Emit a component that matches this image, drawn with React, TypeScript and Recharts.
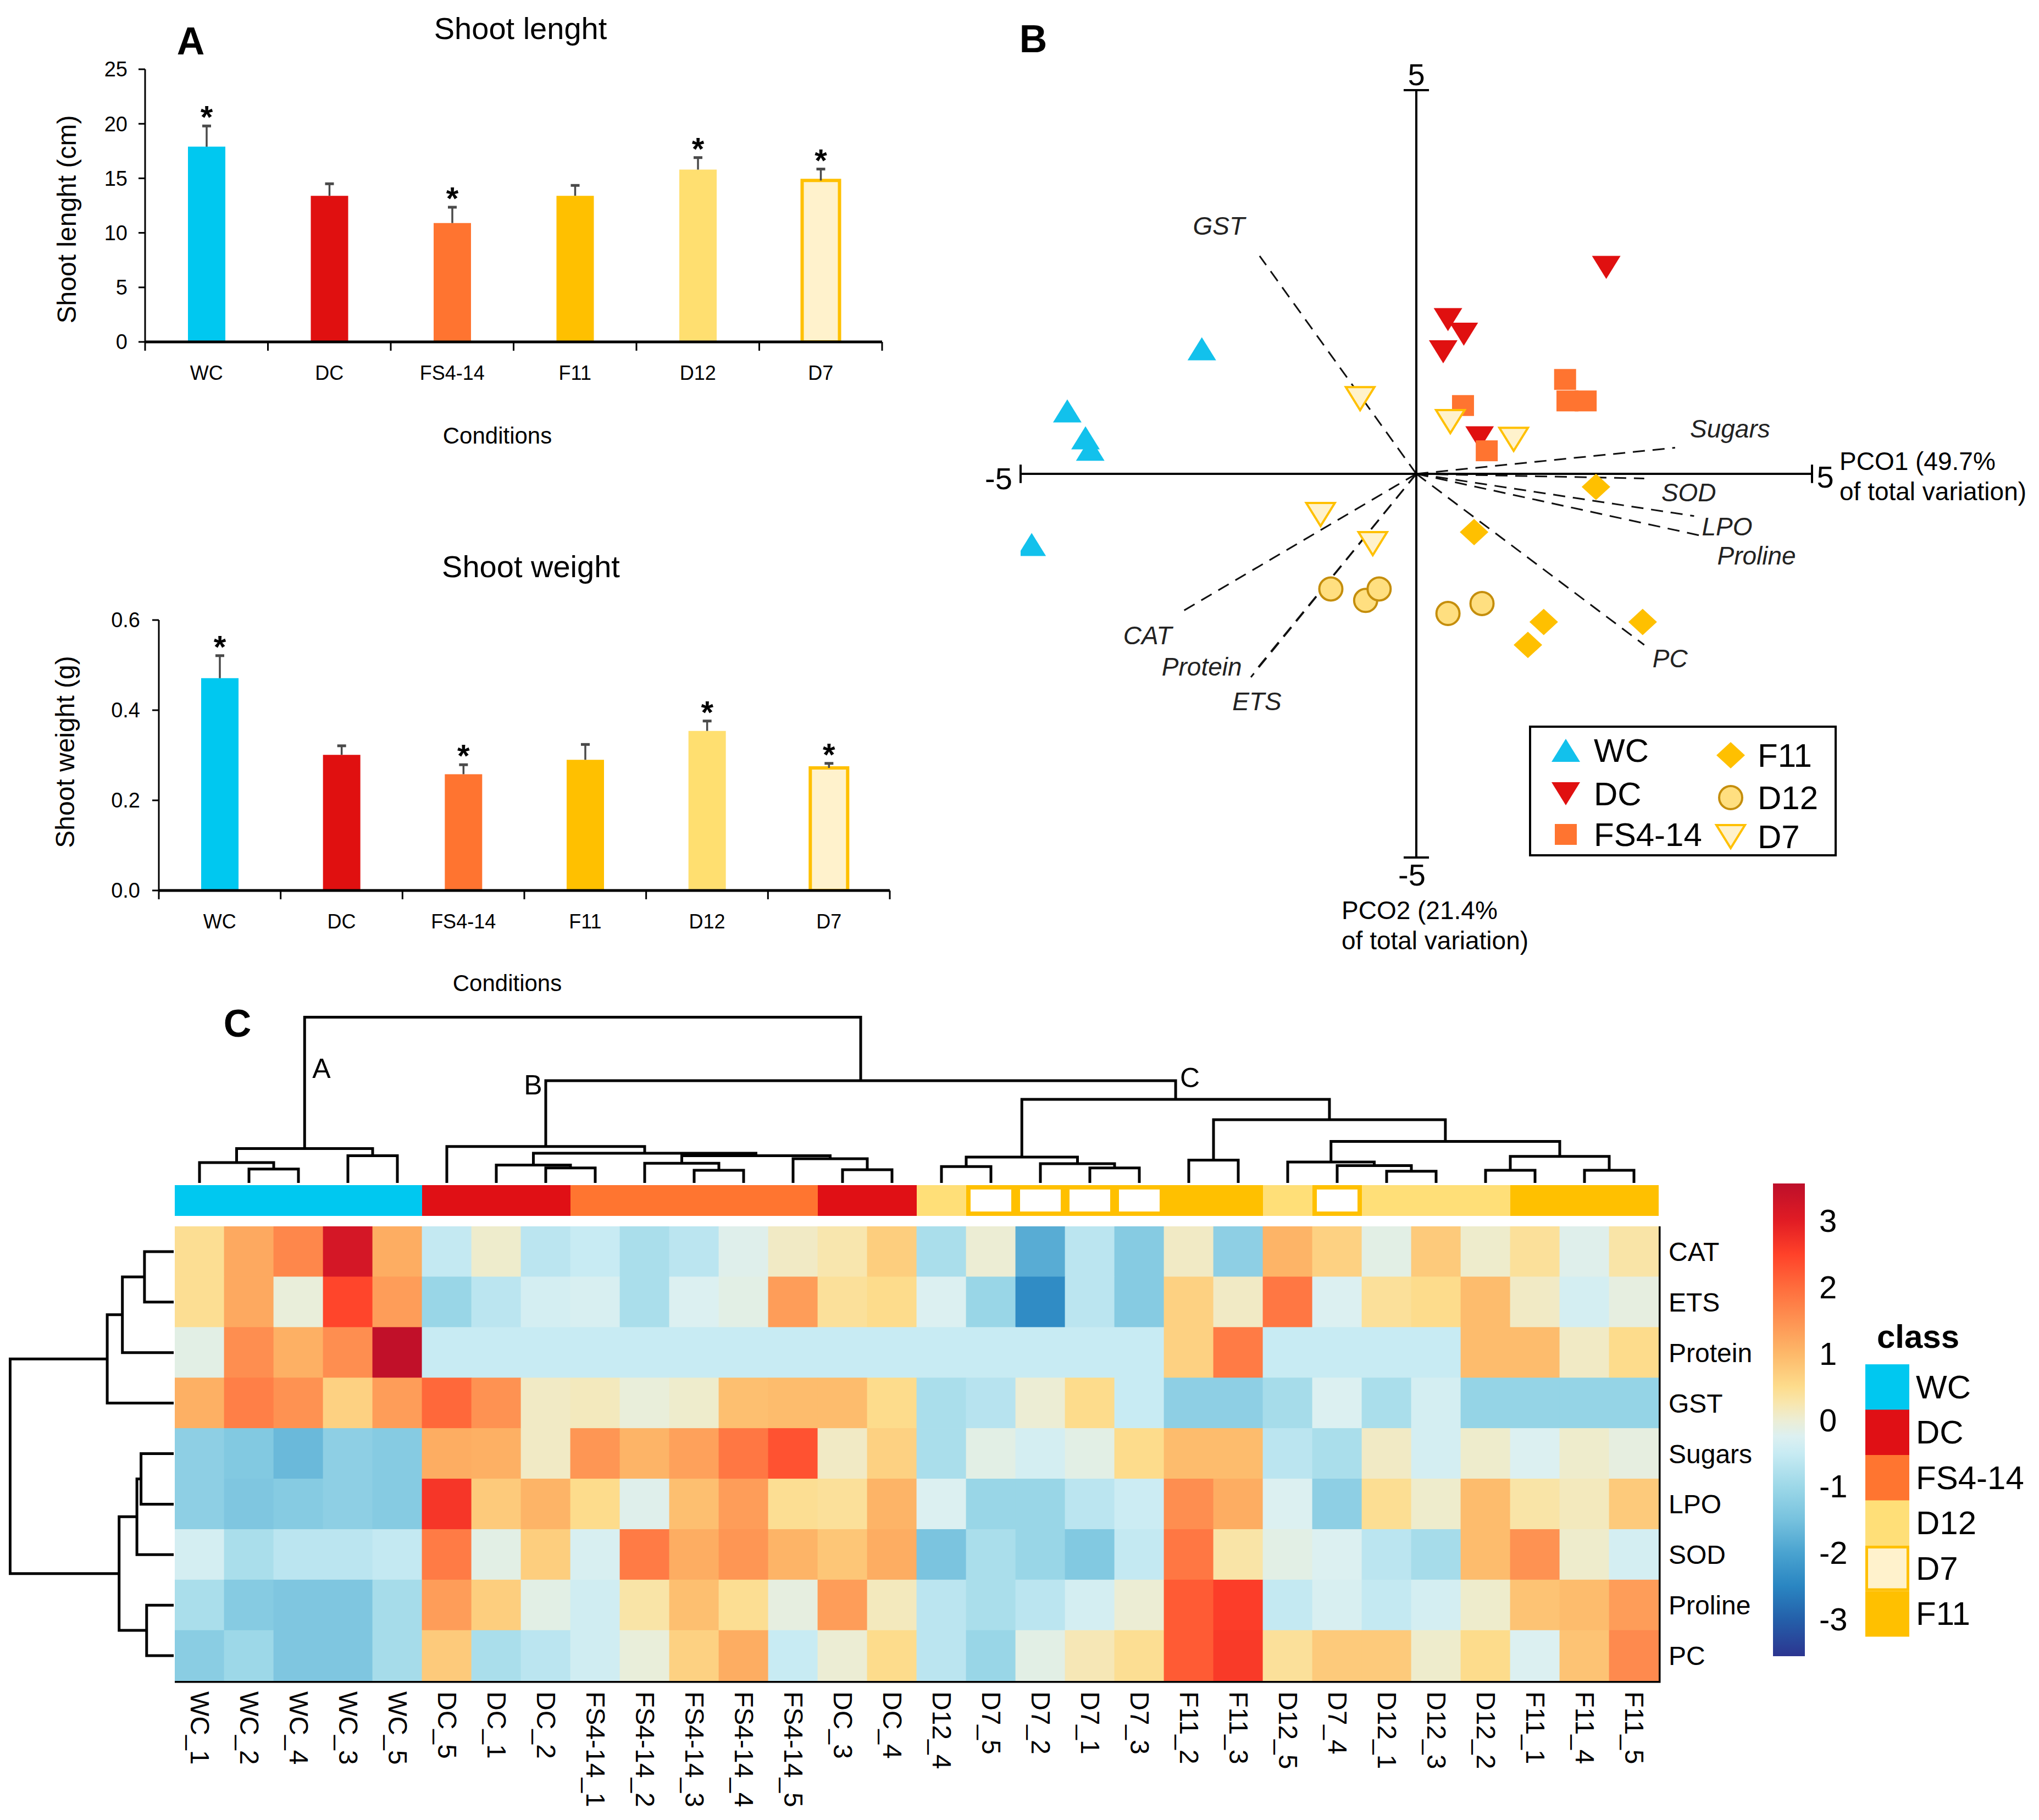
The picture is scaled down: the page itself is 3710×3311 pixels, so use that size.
import React from "react";
import {
  BarChart,
  Bar,
  Cell,
  XAxis,
  YAxis,
  LabelList,
  ScatterChart,
  Scatter,
  ReferenceLine,
  ReferenceArea,
} from "recharts";

const FONT = '"Liberation Sans", Arial, Helvetica, sans-serif';

// ---------- Panel A: shoot length / weight ----------
const conditions = ["WC", "DC", "FS4-14", "F11", "D12", "D7"];
const shootLength = [17.9, 13.4, 10.9, 13.4, 15.8, 14.8];
const shootLengthErr = [1.9, 1.1, 1.45, 0.95, 1.1, 1.05];
const shootLengthSig = [true, false, true, false, true, true];
const shootWeight = [0.471, 0.301, 0.258, 0.29, 0.354, 0.272];
const shootWeightErr = [0.05, 0.02, 0.021, 0.034, 0.022, 0.01];
const shootWeightSig = [true, false, true, false, true, true];
const lengthTicks = [0, 5, 10, 15, 20, 25];
const weightTicks = [0, 0.2, 0.4, 0.6];

const condFill: Record<string, string> = {
  WC: "#00C8F0",
  DC: "#E01010",
  "FS4-14": "#FF7430",
  F11: "#FFC000",
  D12: "#FFDF70",
  D7: "#FFF2CC",
};

// ---------- Panel B: PCO scores and vectors ----------
const pcoWC = [[-2.71, 1.63], [-4.41, 0.82], [-4.18, 0.47], [-4.12, 0.32], [-4.86, -0.92]];
const pcoDC = [[2.4, 2.69], [0.4, 2.01], [0.6, 1.82], [0.34, 1.59], [0.8, 0.47]];
const pcoFS = [[1.88, 1.23], [1.91, 0.95], [2.14, 0.95], [0.59, 0.89], [0.89, 0.3]];
const pcoF11 = [[2.27, -0.17], [0.73, -0.76], [1.61, -1.93], [1.41, -2.23], [2.86, -1.93]];
const pcoD12 = [[-1.08, -1.5], [-0.64, -1.65], [-0.47, -1.5], [0.4, -1.82], [0.83, -1.69]];
const pcoD7 = [[-0.71, 0.98], [0.43, 0.68], [1.23, 0.45], [-1.21, -0.53], [-0.55, -0.91]];
const vectorNames = ["GST", "Sugars", "SOD", "LPO", "Proline", "PC", "CAT", "Protein", "ETS"];
const vectorEnds = [
  [-1.98, 2.84], [3.27, 0.34], [2.88, -0.06], [3.51, -0.55], [3.57, -0.8],
  [2.88, -2.23], [-3.0, -1.82], [-2.03, -2.56], [-2.09, -2.65],
];

// ---------- Panel C: heatmap ----------
const sampleNames = [
  "WC_1", "WC_2", "WC_4", "WC_3", "WC_5", "DC_5", "DC_1", "DC_2", "FS4-14_1", "FS4-14_2",
  "FS4-14_3", "FS4-14_4", "FS4-14_5", "DC_3", "DC_4", "D12_4", "D7_5", "D7_2", "D7_1", "D7_3",
  "F11_2", "F11_3", "D12_5", "D7_4", "D12_1", "D12_3", "D12_2", "F11_1", "F11_4", "F11_5",
];
const variables = ["CAT", "ETS", "Protein", "GST", "Sugars", "LPO", "SOD", "Proline", "PC"];
const zCAT = [0.45, 1.2, 1.65, 3.2, 1.15, -0.55, 0.05, -0.65, -0.5, -0.85, -0.65, -0.2, 0.1, 0.25, 0.7, -0.85, 0.0, -1.85, -0.65, -1.3, 0.1, -1.2, 1.05, 0.65, -0.15, 0.75, 0.05, 0.4, -0.2, 0.3];
const zETS = [0.45, 1.2, -0.05, 2.45, 1.35, -1.05, -0.65, -0.35, -0.3, -0.85, -0.25, -0.15, 1.35, 0.4, 0.5, -0.25, -1.05, -2.4, -0.65, -1.3, 0.65, 0.1, 1.85, -0.25, 0.4, 0.5, 0.95, 0.1, -0.35, -0.1];
const zProtein = [-0.15, 1.55, 1.1, 1.55, 3.5, -0.5, -0.5, -0.5, -0.5, -0.5, -0.5, -0.5, -0.5, -0.5, -0.5, -0.5, -0.5, -0.5, -0.5, -0.5, 0.65, 1.8, -0.5, -0.5, -0.5, -0.5, 0.95, 0.95, 0.1, 0.5];
const zGST = [1.1, 1.75, 1.5, 0.65, 1.35, 2.05, 1.5, 0.1, 0.15, -0.05, 0.05, 0.9, 0.95, 0.95, 0.5, -0.85, -0.7, 0.0, 0.5, -0.5, -1.2, -1.2, -0.9, -0.25, -0.85, -0.35, -1.1, -1.1, -1.1, -1.1];
const zSugars = [-1.2, -1.35, -1.65, -1.2, -1.3, 1.15, 1.1, 0.1, 1.45, 1.05, 1.3, 1.85, 2.3, 0.1, 0.65, -0.85, -0.15, -0.35, -0.15, 0.5, 0.95, 0.95, -0.65, -0.85, 0.1, -0.35, 0.05, -0.25, 0.05, -0.1];
const zLPO = [-1.2, -1.4, -1.3, -1.2, -1.3, 2.65, 0.75, 1.05, 0.5, -0.2, 0.9, 1.35, 0.45, 0.4, 1.05, -0.25, -1.05, -1.05, -0.65, -0.45, 1.55, 1.15, -0.25, -1.2, 0.45, 0.05, 0.95, 0.3, 0.15, 0.75];
const zSOD = [-0.35, -0.85, -0.65, -0.65, -0.55, 1.8, -0.15, 0.7, -0.3, 1.8, 1.15, 1.45, 1.05, 0.8, 1.15, -1.45, -0.85, -1.05, -1.35, -0.55, 1.85, 0.3, -0.15, -0.25, -0.65, -0.9, 0.95, 1.5, 0.05, -0.35];
const zProline = [-0.85, -1.3, -1.4, -1.4, -0.9, 1.35, 0.7, -0.15, -0.4, 0.3, 0.9, 0.45, -0.1, 1.35, 0.15, -0.65, -0.85, -0.65, -0.35, 0.0, 2.2, 2.55, -0.55, -0.3, -0.55, -0.35, 0.05, 0.85, 0.95, 1.35];
const zPC = [-1.25, -1.0, -1.4, -1.4, -0.9, 0.75, -0.85, -0.65, -0.4, -0.05, 0.65, 1.15, -0.5, 0.0, 0.5, -0.65, -1.05, -0.15, 0.2, 0.45, 2.2, 2.6, 0.4, 0.75, 0.75, 0.05, 0.5, -0.25, 0.85, 1.6];
const heatRows = [zCAT, zETS, zProtein, zGST, zSugars, zLPO, zSOD, zProline, zPC];

// dendrogram merges: [childA, childB, height]; leaves first, then merged nodes in order
type Merge = [number, number, number];
const colMerges: Merge[] = [
  [1, 2, 0.84], [0, 30, 1.23], [3, 4, 1.65], [31, 32, 2.08],
  [7, 8, 0.91], [6, 34, 1.08], [10, 11, 0.77], [9, 36, 1.19], [13, 14, 0.8], [12, 38, 1.47],
  [37, 39, 1.65], [35, 40, 1.8], [5, 41, 2.21],
  [15, 16, 0.99], [18, 19, 0.91], [17, 44, 1.17], [43, 45, 1.57], [20, 21, 1.38],
  [24, 25, 0.71], [23, 48, 1.05], [22, 49, 1.27], [26, 27, 0.77], [28, 29, 0.77], [51, 52, 1.61],
  [50, 53, 2.52], [47, 54, 3.83], [46, 55, 5.07], [42, 56, 6.2], [33, 57, 10.05],
];
const rowMerges: Merge[] = [
  [0, 1, 1.77], [9, 2, 3.11], [10, 3, 4.03], [4, 5, 1.98], [12, 6, 2.23], [7, 8, 1.64],
  [13, 14, 3.31], [11, 15, 9.92],
];

const classColors: Record<string, string> = {
  WC: "#00C8F0",
  DC: "#E01015",
  "FS4-14": "#FF7530",
  D12: "#FFDF78",
  D7: "#FFF2CC",
  F11: "#FFC000",
};
const legendClasses = ["WC", "DC", "FS4-14", "D12", "D7", "F11"];

const cbarTicks = [-3, -2, -1, 0, 1, 2, 3];
const cmapStops = [-3.56, -3.0, -2.5, -2.0, -1.5, -1.0, -0.5, -0.25, 0, 0.25, 0.5, 1.0, 1.5, 2.0, 2.5, 3.0, 3.56];
const cmapColors = [
  "#2C3590", "#2460AA", "#2A86C2", "#4AA3D0", "#77C2DE", "#9DD8E8", "#C8EBF3", "#DCF0F1",
  "#ECEDD4", "#F8E6AE", "#FDDC8C", "#FDB869", "#FE9252", "#FF6C3C", "#FF4129", "#E11C24", "#BD0F2A",
];

function hexRgb(h: string) {
  const n = parseInt(h.slice(1), 16);
  return [(n >> 16) & 255, (n >> 8) & 255, n & 255];
}
function cmap(v: number) {
  const lo = cmapStops[0];
  const hi = cmapStops[cmapStops.length - 1];
  const t = Math.max(lo, Math.min(hi, v));
  let i = 0;
  while (i < cmapStops.length - 2 && t > cmapStops[i + 1]) i++;
  const f = (t - cmapStops[i]) / (cmapStops[i + 1] - cmapStops[i]);
  const a = hexRgb(cmapColors[i]);
  const b = hexRgb(cmapColors[i + 1]);
  const c = a.map((x, k) => Math.round(x + (b[k] - x) * f));
  return `rgb(${c[0]},${c[1]},${c[2]})`;
}

function dendroLinks(merges: Merge[], n: number) {
  const pos: number[] = Array.from({ length: n }, (_, i) => i);
  const hgt: number[] = Array(n).fill(0);
  return merges.map(([a, b, h]) => {
    const link = [
      { p: pos[a], h: hgt[a] },
      { p: pos[a], h },
      { p: pos[b], h },
      { p: pos[b], h: hgt[b] },
    ];
    pos.push((pos[a] + pos[b]) / 2);
    hgt.push(h);
    return link;
  });
}

const emptyShape = () => <g />;

function Label({
  x, y, size, text, anchor = "middle", bold, italic, rotate,
}: {
  x: number; y: number; size: number; text: string; anchor?: string;
  bold?: boolean; italic?: boolean; rotate?: number;
}) {
  const tx = anchor === "middle" ? "-50%" : anchor === "end" ? "-100%" : "0";
  return (
    <div
      style={{
        position: "absolute",
        left: x,
        top: y,
        fontSize: size,
        fontFamily: FONT,
        fontWeight: bold ? 700 : 400,
        fontStyle: italic ? "italic" : "normal",
        lineHeight: 1,
        whiteSpace: "nowrap",
        color: "#000",
        transform: `translate(${tx}, -50%)${rotate ? ` rotate(${rotate}deg)` : ""}`,
      }}
    >
      {text}
    </div>
  );
}

// ---------- bar panel ----------
type BarPanelProps = {
  top: number; width: number; height: number;
  plotLeft: number; plotTop: number; plotRight: number; plotBottom: number;
  values: number[]; errs: number[]; sig: boolean[];
  ticks: number[]; fmt: (v: number) => string; tickMargin: number;
};

function BarPanel(p: BarPanelProps) {
  const data = conditions.map((name, i) => ({ name, value: p.values[i], err: p.errs[i], sig: p.sig[i] }));
  const maxY = p.ticks[p.ticks.length - 1];
  const ppu = (p.plotBottom - p.plotTop) / maxY;
  const band = (p.plotRight - p.plotLeft) / conditions.length;

  const renderErr = (props: any) => {
    let idx = props.index;
    if (idx == null) idx = data.findIndex((d) => d.value === props.value);
    const d = data[idx];
    if (!d) return null;
    const cx = Number(props.x) + Number(props.width) / 2;
    const y0 = Number(props.y);
    const top = y0 - d.err * ppu;
    return (
      <g>
        <line x1={cx} x2={cx} y1={y0} y2={top} stroke="#4a4a4a" strokeWidth={3.5} />
        <line x1={cx - 8} x2={cx + 8} y1={top} y2={top} stroke="#4a4a4a" strokeWidth={5} />
        {d.sig && (
          <text x={cx} y={top + 4} textAnchor="middle" fontSize={58} fontWeight="bold" fontFamily={FONT} fill="#000">
            *
          </text>
        )}
      </g>
    );
  };

  const renderTick = (props: any) => {
    const { x, y, payload, index } = props;
    const half = band / 2;
    return (
      <g>
        <line x1={x - half} x2={x - half} y1={y} y2={y + 16} stroke="#000" strokeWidth={3} />
        {index === conditions.length - 1 && (
          <line x1={x + half} x2={x + half} y1={y} y2={y + 16} stroke="#000" strokeWidth={3} />
        )}
        <text x={x} y={y + 69} textAnchor="middle" fontSize={36} fontFamily={FONT} fill="#000">
          {payload.value}
        </text>
      </g>
    );
  };

  return (
    <div style={{ position: "absolute", left: 0, top: p.top }}>
      <BarChart
        width={p.width}
        height={p.height}
        data={data}
        margin={{ top: p.plotTop, right: p.width - p.plotRight, bottom: 0, left: 0 }}
      >
        <XAxis
          dataKey="name"
          type="category"
          height={p.height - p.plotBottom}
          tickLine={false}
          tickSize={0}
          tickMargin={0}
          interval={0}
          axisLine={{ stroke: "#000", strokeWidth: 5 }}
          tick={renderTick}
        />
        <YAxis
          type="number"
          domain={[0, maxY]}
          ticks={p.ticks}
          interval={0}
          allowDataOverflow
          width={p.plotLeft}
          tickFormatter={p.fmt}
          tick={{ fontSize: 38, fill: "#000", fontFamily: FONT }}
          tickSize={12}
          tickMargin={p.tickMargin}
          tickLine={{ stroke: "#000", strokeWidth: 3 }}
          axisLine={{ stroke: "#000", strokeWidth: 3 }}
        />
        <Bar dataKey="value" barSize={68} isAnimationActive={false}>
          {data.map((d) => (
            <Cell
              key={d.name}
              fill={condFill[d.name]}
              stroke={d.name === "D7" ? "#FFC000" : "none"}
              strokeWidth={d.name === "D7" ? 6 : 0}
            />
          ))}
          <LabelList dataKey="value" content={renderErr} />
        </Bar>
      </BarChart>
    </div>
  );
}

// ---------- PCO markers ----------
const triUp = (cx: number, cy: number) => `${cx},${cy - 21} ${cx - 26},${cy + 21} ${cx + 26},${cy + 21}`;
const triDown = (cx: number, cy: number) => `${cx},${cy + 21} ${cx - 26},${cy - 21} ${cx + 26},${cy - 21}`;
const diamondPts = (cx: number, cy: number) => `${cx},${cy - 24} ${cx + 26},${cy} ${cx},${cy + 24} ${cx - 26},${cy}`;

function Marker({ group, cx, cy }: { group: string; cx: number; cy: number }) {
  switch (group) {
    case "WC":
      return <polygon points={triUp(cx, cy)} fill="#12C1EC" />;
    case "DC":
      return <polygon points={triDown(cx, cy)} fill="#E01010" />;
    case "FS4-14":
      return <rect x={cx - 20} y={cy - 19} width={40} height={38} fill="#FF7430" />;
    case "F11":
      return <polygon points={diamondPts(cx, cy)} fill="#FFC000" />;
    case "D12":
      return <circle cx={cx} cy={cy} r={21} fill="#FFDF80" stroke="#C58E0C" strokeWidth={4} />;
    default:
      return <polygon points={triDown(cx, cy)} fill="#FFF2CC" stroke="#FFC000" strokeWidth={4} strokeLinejoin="miter" />;
  }
}

const pcoGroups = [
  { name: "WC", pts: pcoWC },
  { name: "DC", pts: pcoDC },
  { name: "FS4-14", pts: pcoFS },
  { name: "F11", pts: pcoF11 },
  { name: "D12", pts: pcoD12 },
  { name: "D7", pts: pcoD7 },
];

const vectorLabelOffset: Record<string, [number, number]> = {
  GST: [-74, -55],
  Sugars: [100, -35],
  SOD: [81, 26],
  LPO: [60, 19],
  Proline: [105, 37],
  PC: [47, 25],
  CAT: [-57, 40],
  Protein: [-98, -6],
  ETS: [11, 44],
};

// PCO plot area (page px)
const PCO_LEFT = 1857;
const PCO_RIGHT = 3297;
const PCO_TOP = 164;
const PCO_BOTTOM = 1560;

function PcoPanel() {
  const vecData = vectorNames.map((name, i) => ({ name, x: vectorEnds[i][0], y: vectorEnds[i][1] }));
  const renderVecLabel = (props: any) => {
    const { cx, cy, payload } = props;
    const [dx, dy] = vectorLabelOffset[payload.name];
    return (
      <text
        x={cx + dx}
        y={cy + dy}
        textAnchor="middle"
        dominantBaseline="central"
        fontSize={46}
        fontStyle="italic"
        fontFamily={FONT}
        fill="#222"
      >
        {payload.name}
      </text>
    );
  };
  const axis = { stroke: "#000", strokeWidth: 4, ifOverflow: "visible" as const };
  const chartLeft = 1720;
  const chartTop = 90;
  const w = 1990;
  const h = 1650;
  return (
    <div style={{ position: "absolute", left: chartLeft, top: chartTop }}>
      <ScatterChart
        width={w}
        height={h}
        margin={{
          top: PCO_TOP - chartTop,
          right: chartLeft + w - PCO_RIGHT,
          bottom: chartTop + h - PCO_BOTTOM,
          left: PCO_LEFT - chartLeft,
        }}
      >
        <XAxis type="number" dataKey="x" domain={[-5, 5]} hide allowDataOverflow />
        <YAxis type="number" dataKey="y" domain={[-5, 5]} hide allowDataOverflow />
        {vecData.map((v) => (
          <ReferenceLine
            key={v.name}
            segment={[{ x: 0, y: 0 }, { x: v.x, y: v.y }]}
            stroke="#111"
            strokeWidth={3}
            strokeDasharray="22 14"
            ifOverflow="visible"
          />
        ))}
        <ReferenceLine segment={[{ x: -5, y: 0 }, { x: 5, y: 0 }]} {...axis} />
        <ReferenceLine segment={[{ x: 0, y: -5 }, { x: 0, y: 5 }]} {...axis} />
        <ReferenceLine segment={[{ x: -5, y: -0.12 }, { x: -5, y: 0.12 }]} {...axis} />
        <ReferenceLine segment={[{ x: 5, y: -0.12 }, { x: 5, y: 0.12 }]} {...axis} />
        <ReferenceLine segment={[{ x: -0.16, y: 5 }, { x: 0.16, y: 5 }]} {...axis} />
        <ReferenceLine segment={[{ x: -0.16, y: -5 }, { x: 0.16, y: -5 }]} {...axis} />
        {pcoGroups.map((g) => (
          <Scatter
            key={g.name}
            data={g.pts.map(([x, y]) => ({ x, y }))}
            isAnimationActive={false}
            shape={(props: any) => <Marker group={g.name} cx={props.cx} cy={props.cy} />}
          />
        ))}
        <Scatter data={vecData} isAnimationActive={false} shape={renderVecLabel} />
      </ScatterChart>
    </div>
  );
}

function PcoLegend() {
  const left = ["WC", "DC", "FS4-14"];
  const right = ["F11", "D12", "D7"];
  const leftY = [45, 124, 198];
  const rightY = [54, 131, 202];
  return (
    <svg style={{ position: "absolute", left: 2782, top: 1320 }} width={562} height={240}>
      <rect x={2} y={2} width={556} height={234} fill="#fff" stroke="#000" strokeWidth={4} />
      {left.map((g, i) => (
        <g key={g}>
          <Marker group={g} cx={67} cy={leftY[i]} />
          <text x={118} y={leftY[i]} dominantBaseline="central" fontSize={60} fontFamily={FONT}>{g}</text>
        </g>
      ))}
      {right.map((g, i) => (
        <g key={g}>
          <Marker group={g} cx={367} cy={rightY[i]} />
          <text x={416} y={rightY[i]} dominantBaseline="central" fontSize={60} fontFamily={FONT}>{g}</text>
        </g>
      ))}
    </svg>
  );
}

// ---------- heatmap panel ----------
const HM_LEFT = 318;
const HM_TOP = 2231;
const HM_W = 2700;
const HM_H = 827;
const CELL_W = HM_W / sampleNames.length;
const CELL_H = HM_H / variables.length;
const DENDRO_UNIT = 30; // px per height unit

function Heatmap() {
  const cells = heatRows.flatMap((row, r) => row.map((z, c) => ({ x: c, y: r, z })));
  const renderCell = (props: any) => {
    const { cx, cy, payload } = props;
    return (
      <rect
        x={cx - CELL_W / 2 - 0.4}
        y={cy - CELL_H / 2 - 0.4}
        width={CELL_W + 0.8}
        height={CELL_H + 0.8}
        fill={cmap(payload.z)}
      />
    );
  };
  const renderColTick = (props: any) => {
    const { x, y, payload } = props;
    const ty = y + 19;
    return (
      <text
        x={x}
        y={ty}
        transform={`rotate(90, ${x}, ${ty})`}
        textAnchor="start"
        dominantBaseline="central"
        fontSize={48}
        fontFamily={FONT}
        fill="#000"
      >
        {sampleNames[payload.value]}
      </text>
    );
  };
  return (
    <div style={{ position: "absolute", left: HM_LEFT, top: HM_TOP }}>
      <ScatterChart width={HM_W + 200} height={HM_H + 260} margin={{ top: 0, right: 0, bottom: 0, left: 0 }}>
        <XAxis
          type="number"
          dataKey="x"
          domain={[-0.5, sampleNames.length - 0.5]}
          ticks={sampleNames.map((_, i) => i)}
          interval={0}
          height={260}
          tickSize={0}
          tickMargin={0}
          axisLine={false}
          tickLine={false}
          tick={renderColTick}
          allowDataOverflow
        />
        <YAxis
          type="number"
          dataKey="y"
          domain={[-0.5, variables.length - 0.5]}
          reversed
          orientation="right"
          ticks={variables.map((_, i) => i)}
          interval={0}
          width={200}
          tickSize={0}
          tickMargin={18}
          axisLine={false}
          tickLine={false}
          tickFormatter={(i: number) => variables[i]}
          tick={{ fontSize: 48, fill: "#000", fontFamily: FONT }}
          allowDataOverflow
        />
        <Scatter data={cells} shape={renderCell} isAnimationActive={false} />
        <ReferenceArea
          x1={-0.5}
          x2={sampleNames.length - 0.5}
          y1={-0.5}
          y2={variables.length - 0.5}
          fill="none"
          fillOpacity={0}
          stroke="#000"
          strokeWidth={7}
          ifOverflow="visible"
        />
      </ScatterChart>
    </div>
  );
}

function TopDendrogram() {
  // leaf base at y=2152, class bar 2156..2212
  const barTop = -4 / DENDRO_UNIT;
  const barBottom = -60 / DENDRO_UNIT;
  const yMax = 10.4;
  const height = (yMax - barBottom) * DENDRO_UNIT;
  const links = dendroLinks(colMerges, sampleNames.length);
  const insetX = 4 / CELL_W;
  const insetY = 4 / DENDRO_UNIT;
  return (
    <div style={{ position: "absolute", left: HM_LEFT, top: 2212 - height }}>
      <ScatterChart width={HM_W} height={height} margin={{ top: 0, right: 0, bottom: 0, left: 0 }}>
        <XAxis type="number" dataKey="x" domain={[-0.5, sampleNames.length - 0.5]} hide />
        <YAxis type="number" dataKey="y" domain={[barBottom, yMax]} hide />
        {sampleNames.map((s, i) => {
          const cls = s.split("_")[0];
          const d7 = cls === "D7";
          return (
            <ReferenceArea
              key={s}
              x1={i - 0.5 + (d7 ? insetX : 0)}
              x2={i + 0.5 - (d7 ? insetX : 0)}
              y1={barBottom + (d7 ? insetY : 0)}
              y2={barTop - (d7 ? insetY : 0)}
              fill={d7 ? "#FFFFFF" : classColors[cls]}
              fillOpacity={1}
              stroke={d7 ? "#FFC000" : "none"}
              strokeWidth={d7 ? 8 : 0}
              ifOverflow="visible"
            />
          );
        })}
        {links.map((pts, i) => (
          <Scatter
            key={i}
            data={pts.map((q) => ({ x: q.p, y: q.h }))}
            line={{ stroke: "#000", strokeWidth: 5 }}
            lineType="joint"
            shape={emptyShape}
            isAnimationActive={false}
          />
        ))}
      </ScatterChart>
    </div>
  );
}

function LeftDendrogram() {
  const links = dendroLinks(rowMerges, variables.length);
  return (
    <div style={{ position: "absolute", left: HM_LEFT - 10 * DENDRO_UNIT - 2, top: HM_TOP }}>
      <ScatterChart width={10 * DENDRO_UNIT} height={HM_H} margin={{ top: 0, right: 0, bottom: 0, left: 0 }}>
        <XAxis type="number" dataKey="x" domain={[0, 10]} reversed hide />
        <YAxis type="number" dataKey="y" domain={[-0.5, variables.length - 0.5]} reversed hide />
        {links.map((pts, i) => (
          <Scatter
            key={i}
            data={pts.map((q) => ({ x: q.h, y: q.p }))}
            line={{ stroke: "#000", strokeWidth: 5 }}
            lineType="joint"
            shape={emptyShape}
            isAnimationActive={false}
          />
        ))}
      </ScatterChart>
    </div>
  );
}

function ColorBar() {
  const lo = cmapStops[0];
  const hi = cmapStops[cmapStops.length - 1];
  const stopData = cmapStops.map((v) => ({ x: 0.5, y: v }));
  return (
    <div style={{ position: "absolute", left: 3226, top: 2153 }}>
      <ScatterChart width={58 + 140} height={860} margin={{ top: 0, right: 0, bottom: 0, left: 0 }}>
        <defs>
          <linearGradient id="cbarGrad" x1="0" y1="1" x2="0" y2="0">
            {cmapStops.map((v, i) => (
              <stop key={i} offset={(v - lo) / (hi - lo)} stopColor={cmapColors[i]} />
            ))}
          </linearGradient>
        </defs>
        <XAxis type="number" dataKey="x" domain={[0, 1]} hide />
        <YAxis
          type="number"
          dataKey="y"
          orientation="right"
          domain={[lo, hi]}
          ticks={cbarTicks}
          interval={0}
          width={140}
          tickSize={0}
          tickMargin={26}
          axisLine={false}
          tickLine={false}
          tick={{ fontSize: 58, fill: "#000", fontFamily: FONT }}
          allowDataOverflow
        />
        <ReferenceArea x1={0} x2={1} y1={lo} y2={hi} fill="url(#cbarGrad)" fillOpacity={1} stroke="none" ifOverflow="visible" />
        <Scatter data={stopData} shape={emptyShape} isAnimationActive={false} />
      </ScatterChart>
    </div>
  );
}

function ClassLegend() {
  const boxTop = 2482;
  const rowH = 82.5;
  return (
    <>
      <Label x={3490} y={2432} size={60} text="class" bold />
      <svg style={{ position: "absolute", left: 3390, top: boxTop - 4 }} width={320} height={rowH * 6 + 8}>
        {legendClasses.map((c, i) => (
          <g key={c}>
            {c === "D7" ? (
              <rect x={6.5} y={4 + i * rowH + 2.5} width={75} height={rowH - 5} fill="#FFF2CC" stroke="#FFC000" strokeWidth={5} />
            ) : (
              <rect x={4} y={4 + i * rowH} width={80} height={rowH + 0.5} fill={classColors[c]} />
            )}
            <text x={96} y={4 + i * rowH + rowH / 2} dominantBaseline="central" fontSize={60} fontFamily={FONT}>
              {c}
            </text>
          </g>
        ))}
      </svg>
    </>
  );
}

export default function App() {
  const pcoMidX = (PCO_LEFT + PCO_RIGHT) / 2;
  return (
    <div
      style={{
        position: "absolute",
        left: 0,
        top: 0,
        width: 3710,
        height: 3311,
        background: "#fff",
        overflow: "hidden",
        fontFamily: FONT,
      }}
    >
      {/* Panel A */}
      <BarPanel
        top={0}
        width={1700}
        height={720}
        plotLeft={264}
        plotTop={126}
        plotRight={1605}
        plotBottom={622}
        values={shootLength}
        errs={shootLengthErr}
        sig={shootLengthSig}
        ticks={lengthTicks}
        fmt={(v) => String(v)}
        tickMargin={20}
      />
      <BarPanel
        top={1000}
        width={1700}
        height={720}
        plotLeft={289}
        plotTop={128}
        plotRight={1619}
        plotBottom={620}
        values={shootWeight}
        errs={shootWeightErr}
        sig={shootWeightSig}
        ticks={weightTicks}
        fmt={(v) => v.toFixed(1)}
        tickMargin={22}
      />
      <Label x={347} y={75} size={70} text="A" bold />
      <Label x={947} y={52} size={56} text="Shoot lenght" />
      <Label x={122} y={399} size={48} text="Shoot lenght (cm)" rotate={-90} />
      <Label x={905} y={793} size={42} text="Conditions" />
      <Label x={966} y={1031} size={56} text="Shoot weight" />
      <Label x={119} y={1368} size={48} text="Shoot weight (g)" rotate={-90} />
      <Label x={923} y={1789} size={42} text="Conditions" />

      {/* Panel B */}
      <PcoPanel />
      <PcoLegend />
      <Label x={1880} y={71} size={70} text="B" bold />
      <Label x={pcoMidX} y={PCO_TOP - 28} size={56} text="5" />
      <Label x={pcoMidX - 8} y={PCO_BOTTOM + 32} size={56} text="-5" />
      <Label x={PCO_LEFT - 40} y={871} size={56} text="-5" />
      <Label x={PCO_RIGHT + 24} y={868} size={56} text="5" />
      <Label x={3347} y={839} size={46} text="PCO1 (49.7%" anchor="start" />
      <Label x={3347} y={894} size={46} text="of total variation)" anchor="start" />
      <Label x={2441} y={1656} size={46} text="PCO2 (21.4%" anchor="start" />
      <Label x={2441} y={1711} size={46} text="of total variation)" anchor="start" />

      {/* Panel C */}
      <TopDendrogram />
      <LeftDendrogram />
      <Heatmap />
      <ColorBar />
      <ClassLegend />
      <Label x={432} y={1862} size={70} text="C" bold />
      <Label x={585} y={1944} size={50} text="A" />
      <Label x={970} y={1974} size={50} text="B" />
      <Label x={2165} y={1961} size={50} text="C" />
    </div>
  );
}
